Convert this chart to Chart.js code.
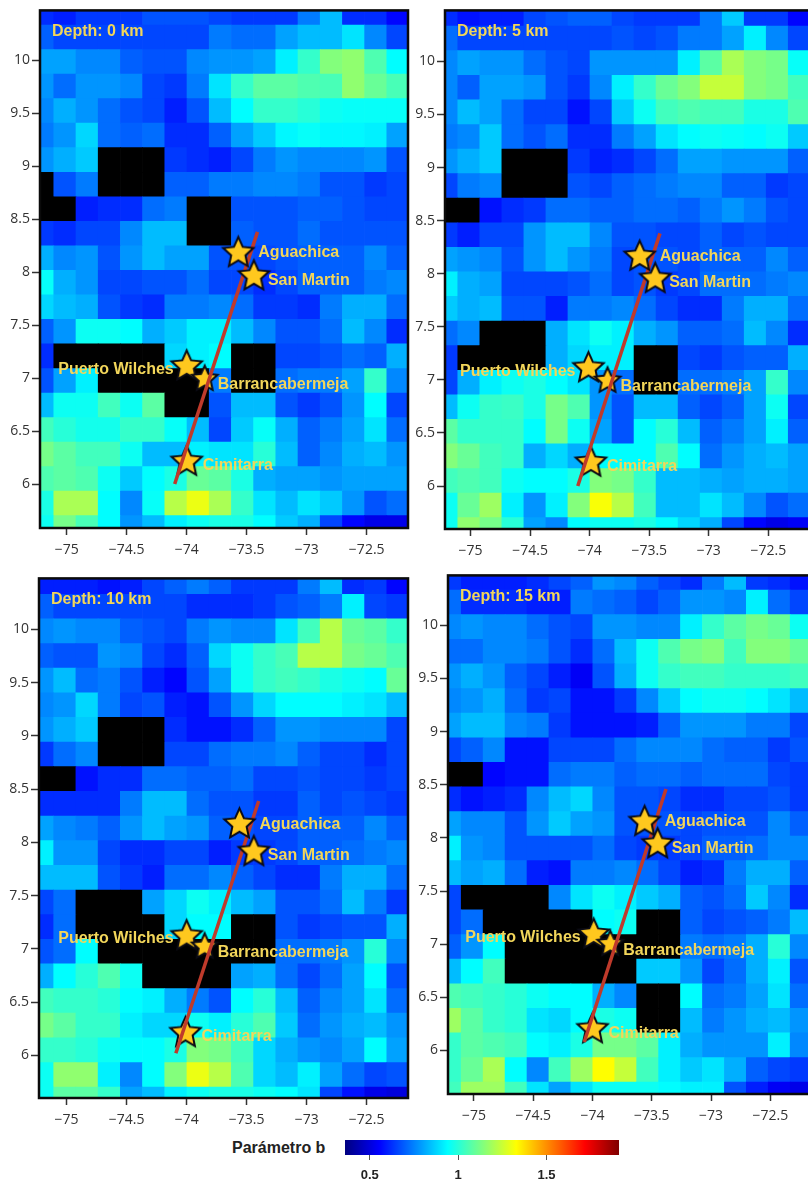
<!DOCTYPE html>
<html>
<head>
<meta charset="utf-8">
<title>Parámetro b</title>
<script src="https://cdn.jsdelivr.net/npm/chart.js@4/dist/chart.umd.js"></script>
<style>
  html, body { margin: 0; background: #fff; overflow: hidden; width: 808px; height: 1184px; }
  canvas { position: absolute; filter: blur(0.5px); }
  #barTitle { position: absolute; left: 232px; top: 1139px; font: bold 16px "Liberation Sans", sans-serif; color: #222; white-space: nowrap; }
</style>
</head>
<body>
<canvas id="panel0" width="420" height="565" style="left:0;top:0"></canvas>
<canvas id="panel5" width="410" height="565" style="left:405px;top:0"></canvas>
<canvas id="panel10" width="420" height="560" style="left:0;top:568px"></canvas>
<canvas id="panel15" width="410" height="560" style="left:408px;top:565px"></canvas>
<canvas id="colorBar" width="300" height="50" style="left:332px;top:1134px"></canvas>
<div id="barTitle">Parámetro b</div>
<script>
const lons = [-75.2, -75.015, -74.83, -74.645, -74.46, -74.275, -74.09, -73.905, -73.72, -73.535, -73.35, -73.165, -72.98, -72.795, -72.61, -72.425, -72.24]
const lats = [10.447, 10.215, 9.984, 9.752, 9.521, 9.289, 9.058, 8.826, 8.595, 8.363, 8.132, 7.9, 7.669, 7.437, 7.206, 6.974, 6.743, 6.511, 6.28, 6.048, 5.817, 5.585]
const lonTicks = [-75, -74.5, -74, -73.5, -73, -72.5]
const latTicks = [6, 6.5, 7, 7.5, 8, 8.5, 9, 9.5, 10]
const barTicks = [0.5, 1, 1.5]

// b value of each cell, north to south, null = no data (black)
const depth0 = [
  [.62,.60,.64,.64,.64,.68,.68,.68,.66,.64,.64,.64,.74,.84,.62,.62,.56],
  [.70,.66,.66,.66,.66,.66,.66,.66,.74,.72,.72,.80,.84,.84,.90,.76,.66],
  [.80,.80,.76,.76,.70,.68,.68,.76,.78,.78,.80,.92,1.02,1.14,1.16,1.06,.94],
  [.78,.72,.78,.78,.76,.66,.64,.74,.90,1.02,1.08,1.08,1.06,1.05,1.16,1.10,1.05],
  [.76,.82,.78,.72,.68,.66,.60,.68,.84,.94,1.02,1.02,1.0,.96,.95,.95,.95],
  [.74,.78,.88,.72,.70,.72,.62,.62,.70,.80,.86,.93,.95,.93,.93,.92,.80],
  [.78,.82,.86,null,null,null,.64,.62,.60,.66,.74,.78,.76,.76,.76,.78,.68],
  [null,.68,.74,null,null,null,.70,.70,.74,.74,.76,.76,.74,.68,.68,.64,.66],
  [null,null,.60,.62,.62,.72,.74,null,null,.68,.68,.68,.70,.70,.68,.66,.66],
  [.64,.62,.66,.66,.76,.84,.84,null,null,.70,.68,.68,.72,.68,.68,.68,.68],
  [.82,.76,.78,.68,.78,.84,.80,.80,.68,.68,.66,.68,.70,.70,.70,.76,.70],
  [.95,.82,.78,.66,.66,.68,.68,.72,.66,.66,.62,.66,.70,.70,.70,.74,.76],
  [.88,.84,.82,.68,.64,.62,.74,.74,.76,.72,.64,.64,.62,.74,.82,.82,.72],
  [.70,.78,.96,.96,.94,.82,.86,.92,.92,.84,.76,.68,.68,.72,.84,.76,.62],
  [.62,null,null,null,null,null,.88,.92,.94,null,null,.66,.66,.68,.72,.70,.82],
  [.68,.80,.92,null,null,null,null,null,.74,null,null,.72,.74,.74,.80,1.02,.76],
  [.84,.96,.96,1.04,.96,1.08,null,null,.68,.84,.84,.68,.64,.68,.78,.94,.66],
  [1.04,1.0,.97,.97,1.02,1.02,.95,.84,.66,.86,.95,.82,.70,.74,.80,.90,.72],
  [1.12,1.08,1.04,1.04,.96,.84,.84,.92,.90,.90,1.0,.84,.70,.76,.82,.84,.78],
  [1.06,1.08,1.06,.96,.86,.94,.98,1.10,1.08,.98,.82,.80,.80,.78,.80,.80,.80],
  [.98,1.2,1.2,.94,.76,.95,1.22,1.30,1.2,1.02,.90,.84,.90,.86,.78,.68,.72],
  [.96,1.12,1.05,.94,.78,.84,.92,.96,.98,.98,.94,.86,.82,.66,.56,.52,.52]
]
const depth5 = [
  [.62,.58,.60,.60,.66,.68,.70,.70,.66,.64,.64,.64,.74,.86,.64,.64,.56],
  [.72,.66,.66,.66,.66,.66,.66,.66,.68,.66,.68,.74,.74,.80,.92,.76,.66],
  [.76,.80,.78,.78,.72,.68,.66,.78,.78,.78,.78,.92,1.08,1.2,1.14,1.12,.95],
  [.76,.70,.80,.80,.78,.68,.64,.76,.92,1.02,1.10,1.14,1.24,1.24,1.14,1.12,1.04],
  [.76,.84,.80,.72,.66,.66,.58,.66,.86,.96,1.04,1.06,1.04,1.04,.98,.98,1.06],
  [.74,.76,.86,.72,.68,.72,.62,.62,.74,.80,.90,.94,.96,.95,.94,.96,.86],
  [.78,.82,.86,null,null,null,.64,.60,.62,.66,.72,.80,.80,.78,.78,.78,.70],
  [.66,.74,.76,null,null,null,.68,.66,.70,.72,.74,.76,.76,.70,.70,.64,.66],
  [null,null,.58,.62,.64,.72,.72,.70,.70,.72,.72,.70,.74,.78,.74,.68,.66],
  [.64,.60,.66,.66,.78,.84,.84,.76,.68,.68,.66,.66,.70,.66,.68,.66,.66],
  [.80,.78,.76,.68,.78,.84,.78,.74,.66,.68,.68,.66,.70,.70,.70,.76,.70],
  [.92,.82,.80,.66,.66,.66,.68,.72,.66,.68,.64,.66,.72,.72,.72,.74,.76],
  [.86,.82,.84,.68,.68,.60,.74,.74,.76,.72,.66,.62,.62,.74,.82,.82,.72],
  [.72,.76,null,null,null,.82,.90,.96,.92,.82,.78,.70,.70,.72,.84,.76,.62],
  [.64,null,null,null,null,.82,.88,.92,.92,null,null,.66,.64,.68,.70,.70,.82],
  [.66,.82,.92,.96,.98,.94,.90,.78,.72,null,null,.72,.72,.74,.80,1.02,.76],
  [.84,.96,1.02,1.03,.98,1.12,1.06,.78,.68,.84,.84,.70,.66,.70,.80,.96,.66],
  [1.08,1.02,1.02,1.02,.94,1.12,.96,.80,.68,.94,1.0,.84,.70,.74,.80,.92,.70],
  [1.14,1.10,1.04,1.02,.82,.88,.82,.94,.94,.94,1.06,.94,.72,.78,.82,.84,.80],
  [1.04,1.06,1.04,.96,.94,.94,.98,1.14,1.12,1.02,.84,.84,.82,.80,.82,.82,.80],
  [.96,1.10,1.18,.92,.78,.92,1.14,1.32,1.22,1.04,.84,.84,.90,.84,.76,.68,.72],
  [.96,1.16,1.12,1.0,.80,.76,.94,.96,.96,.98,.94,.88,.82,.66,.56,.52,.54]
]
const depth10 = [
  [.60,.60,.60,.58,.60,.66,.70,.74,.70,.64,.64,.64,.74,.84,.62,.64,.56],
  [.70,.66,.66,.66,.66,.66,.66,.62,.62,.62,.64,.68,.70,.74,.92,.66,.64],
  [.76,.78,.76,.76,.70,.68,.66,.74,.78,.76,.76,.90,1.04,1.22,1.10,1.08,1.02],
  [.70,.68,.68,.78,.76,.66,.62,.70,.88,.96,1.02,1.05,1.22,1.22,1.12,1.10,1.06],
  [.78,.84,.72,.74,.68,.60,.56,.68,.80,.96,1.02,1.04,1.02,.98,.96,.94,1.10],
  [.76,.78,.88,.74,.66,.68,.60,.58,.68,.78,.88,.94,.94,.94,.92,.90,.84],
  [.78,.82,.86,null,null,null,.62,.58,.58,.62,.70,.78,.78,.76,.76,.76,.66],
  [.64,.72,.76,null,null,null,.66,.66,.72,.74,.74,.76,.70,.66,.66,.62,.66],
  [null,null,.58,.62,.62,.72,.72,.70,.70,.72,.66,.66,.68,.66,.66,.64,.66],
  [.62,.62,.62,.62,.74,.84,.84,.72,.68,.68,.64,.64,.70,.66,.68,.66,.64],
  [.80,.76,.74,.70,.78,.84,.80,.78,.70,.68,.66,.66,.70,.70,.70,.76,.70],
  [.92,.78,.78,.66,.62,.62,.66,.66,.60,.64,.64,.66,.70,.70,.72,.74,.76],
  [.84,.84,.84,.68,.64,.60,.72,.72,.76,.70,.66,.62,.62,.74,.82,.82,.72],
  [.66,.72,null,null,null,.80,.88,.96,.92,.84,.80,.68,.68,.72,.84,.74,.64],
  [.62,.72,null,null,null,null,.88,.94,.94,null,null,.68,.64,.66,.68,.68,.82],
  [.68,.72,.94,null,null,null,null,null,null,null,null,.72,.72,.74,.78,1.0,.76],
  [.82,.94,1.0,1.06,.96,null,null,null,null,.80,.82,.72,.66,.72,.80,.94,.68],
  [1.04,1.02,1.02,1.0,.94,.92,.82,.74,.68,.94,1.0,.84,.70,.76,.80,.90,.72],
  [1.12,1.08,1.02,1.02,.92,.88,.88,.96,.92,1.0,1.06,.86,.72,.78,.82,.84,.78],
  [1.02,1.02,1.0,.96,.94,.94,.98,1.14,1.12,1.04,.88,.82,.78,.76,.80,.94,.80],
  [.96,1.16,1.16,.92,.76,.94,1.14,1.30,1.22,1.06,.88,.84,.92,.80,.72,.66,.68],
  [.96,1.08,1.08,1.02,.80,.84,.92,.96,.98,.98,.96,.94,.90,.66,.58,.52,.50]
]
const depth15 = [
  [.64,.60,.60,.60,.62,.66,.70,.78,.76,.70,.66,.62,.74,.84,.64,.62,.58],
  [.72,.62,.62,.62,.60,.60,.74,.72,.70,.66,.70,.78,.78,.76,.92,.72,.66],
  [.76,.78,.76,.76,.72,.68,.66,.78,.78,.76,.76,.92,1.02,1.08,1.12,1.10,.96],
  [.72,.72,.76,.76,.74,.68,.62,.72,.84,.96,1.06,1.12,1.14,1.04,1.14,1.14,1.10],
  [.78,.82,.78,.70,.66,.60,.54,.68,.82,.96,1.02,1.04,1.04,1.02,1.02,1.02,1.04],
  [.76,.78,.82,.72,.64,.66,.58,.58,.64,.76,.86,.94,.96,.96,.94,.90,.84],
  [.80,.84,.84,.76,.74,.64,.58,.58,.58,.60,.70,.78,.78,.78,.74,.74,.66],
  [.66,.70,.76,.58,.58,.66,.66,.66,.72,.76,.76,.76,.72,.70,.70,.64,.68],
  [null,null,.56,.58,.58,.72,.74,.74,.70,.72,.72,.70,.72,.72,.72,.66,.64],
  [.62,.58,.60,.62,.76,.84,.88,.76,.68,.68,.66,.62,.62,.66,.66,.68,.64],
  [.80,.76,.76,.68,.78,.86,.80,.78,.68,.68,.68,.66,.68,.68,.68,.76,.70],
  [.92,.78,.76,.68,.68,.68,.68,.72,.66,.64,.64,.66,.70,.70,.72,.76,.76],
  [.84,.80,.82,.72,.60,.58,.74,.74,.76,.72,.66,.60,.62,.74,.82,.82,.70],
  [.66,null,null,null,null,.76,.90,.96,.92,.86,.82,.70,.68,.72,.86,.76,.62],
  [.66,.72,null,null,null,null,null,.94,.96,null,null,.70,.66,.68,.70,.74,.84],
  [.70,.78,.94,null,null,null,null,null,null,null,null,.74,.72,.74,.82,1.0,.76],
  [.84,.94,1.04,null,null,null,null,null,null,.86,.86,.78,.66,.72,.82,.92,.68],
  [1.06,1.04,1.02,1.0,.96,.94,.94,.82,.76,null,null,.94,.72,.74,.80,.90,.72],
  [1.18,1.08,1.02,1.0,.90,.88,.94,.98,.96,null,null,.84,.74,.78,.82,.84,.78],
  [1.02,1.08,1.06,1.04,.94,.92,.98,1.12,1.12,1.08,.92,.82,.78,.78,.78,.92,.76],
  [1.02,1.10,1.20,.94,.76,1.04,1.18,1.33,1.24,1.04,.92,.86,.90,.82,.70,.66,.64],
  [1.04,1.18,1.18,1.04,.90,.80,.90,.96,.96,.96,.94,.92,.92,.68,.60,.54,.52]
]

const cities = ['Aguachica', 'San Martin', 'Puerto Wilches', 'Barrancabermeja', 'Cimitarra']
const cityLons0 = [-73.57, -73.44, -74.0, -73.85, -74.0]
const cityLats0 = [8.19, 7.97, 7.12, 7.0, 6.22]
const cityLons5 = [-73.58, -73.45, -74.01, -73.85, -73.99]
const cityLats5 = [8.17, 7.96, 7.12, 7.0, 6.23]
const cityLons10 = [-73.56, -73.44, -74.0, -73.85, -74.01]
const cityLats10 = [8.18, 7.92, 7.13, 7.03, 6.22]
const cityLons15 = [-73.56, -73.45, -73.99, -73.85, -74.0]
const cityLats15 = [8.16, 7.95, 7.1, 7.01, 6.21]

const faultLons0 = [-74.1, -73.41]
const faultLats0 = [6.0, 8.38]
const faultLons5 = [-74.1, -73.41]
const faultLats5 = [6.0, 8.38]
const faultLons10 = [-74.09, -73.4]
const faultLats10 = [6.02, 8.39]
const faultLons15 = [-74.07, -73.38]
const faultLats15 = [6.08, 8.46]

const barMin = 0.36
const barMax = 1.91
const cellHalfHeight = 0.1165
const labelYellow = '#f2d65a'

function jet(v) {
  const t = (v - barMin) / (barMax - barMin)
  const ch = c => Math.round(255 * Math.max(0, Math.min(1, 1.5 - Math.abs(4 * t - c))))
  return `rgb(${ch(3)},${ch(2)},${ch(1)})`
}

function makeStar(radius) {
  const size = Math.ceil(radius * 2 + 18)
  const star = document.createElement('canvas')
  star.width = size
  star.height = size
  const g = star.getContext('2d')
  g.translate(size / 2, size / 2 + 1)
  g.beginPath()
  for (let i = 0; i < 10; i++) {
    const r = i % 2 ? radius * 0.47 : radius
    const a = -Math.PI / 2 + i * Math.PI / 5
    g.lineTo(r * Math.cos(a), r * Math.sin(a))
  }
  g.closePath()
  g.lineWidth = 4
  g.lineJoin = 'miter'
  g.strokeStyle = '#0b0b14'
  g.stroke()
  g.fillStyle = '#ffc81e'
  g.fill()
  return star
}
const bigStar = makeStar(13.5)
const smallStar = makeStar(11)

// text placed next to each star, in pixels from the star
const labelOffsets = [[20, 1], [14, 5], [-13, 4], [13, 7], [16, 5]]

const mapLabels = {
  id: 'mapLabels',
  afterDatasetsDraw(chart, args, opts) {
    const { ctx, chartArea: a, scales } = chart
    ctx.save()
    ctx.strokeStyle = '#0a0a0a'
    ctx.lineWidth = 2.5
    ctx.strokeRect(a.left, a.top, a.right - a.left, a.bottom - a.top)
    ctx.font = 'bold 16px "Liberation Sans", sans-serif'
    ctx.fillStyle = labelYellow
    ctx.textBaseline = 'middle'
    cities.forEach((name, i) => {
      ctx.textAlign = labelOffsets[i][0] < 0 ? 'right' : 'left'
      ctx.fillText(name,
        scales.x.getPixelForValue(opts.lons[i]) + labelOffsets[i][0],
        scales.y.getPixelForValue(opts.lats[i]) + labelOffsets[i][1])
    })
    ctx.textAlign = 'left'
    ctx.fillText(opts.title, a.left + 12, a.top + 21)
    ctx.restore()
  }
}

function makeCells(values) {
  const cells = []
  values.forEach((row, r) => {
    row.forEach((v, c) => {
      cells.push({ x: lons[c], y: [lats[r] - cellHalfHeight, lats[r] + cellHalfHeight], v: v })
    })
  })
  return cells
}

function makeStars(cityLons, cityLats, names) {
  return names.map(n => {
    const i = cities.indexOf(n)
    return { x: cityLons[i], y: cityLats[i], name: n }
  })
}

function starStyle(c) {
  return c.raw && c.raw.name === 'Barrancabermeja' ? smallStar : bigStar
}

function drawPanel(id, title, values, cityLons, cityLats, faultLons, faultLats, box) {
  new Chart(document.getElementById(id), {
    type: 'bar',
    data: {
      datasets: [
        {
          type: 'scatter',
          data: makeStars(cityLons, cityLats, ['Aguachica', 'San Martin']),
          pointStyle: starStyle,
          order: 0
        },
        {
          type: 'line',
          data: faultLons.map((x, i) => ({ x: x, y: faultLats[i] })),
          borderColor: '#bf3a2b',
          borderWidth: 3.5,
          pointRadius: 0,
          order: 1
        },
        {
          type: 'scatter',
          data: makeStars(cityLons, cityLats, ['Puerto Wilches', 'Barrancabermeja', 'Cimitarra']),
          pointStyle: starStyle,
          order: 2
        },
        {
          type: 'bar',
          data: makeCells(values),
          backgroundColor: c => (c.raw && c.raw.v !== null ? jet(c.raw.v) : '#000'),
          barPercentage: 1,
          categoryPercentage: 1,
          grouped: false,
          borderWidth: 0,
          order: 3
        }
      ]
    },
    options: {
      responsive: false,
      animation: false,
      events: [],
      layout: { padding: { top: box.top, right: box.right, left: 0, bottom: 0 } },
      plugins: {
        legend: { display: false },
        tooltip: { enabled: false },
        mapLabels: { title: title, lons: cityLons, lats: cityLats }
      },
      scales: {
        x: {
          type: 'linear',
          offset: false,
          min: box.xMin,
          max: box.xMax,
          afterBuildTicks: s => { s.ticks = lonTicks.map(v => ({ value: v })) },
          afterFit: s => { s.height = box.bottomAxis },
          grid: { drawOnChartArea: false, tickLength: 7, tickColor: '#333', tickWidth: 1.5, offset: false },
          border: { display: false },
          ticks: {
            color: '#333',
            padding: 7,
            maxRotation: 0,
            autoSkip: false,
            font: { family: '"Open Sans"', size: 14 },
            callback: v => String(v).replace('-', '\u2212')
          }
        },
        y: {
          type: 'linear',
          min: box.yMin,
          max: box.yMax,
          afterBuildTicks: s => { s.ticks = latTicks.map(v => ({ value: v })) },
          afterFit: s => { s.width = box.leftAxis },
          grid: { drawOnChartArea: false, tickLength: 8, tickColor: '#333', tickWidth: 1.5 },
          border: { display: false },
          ticks: {
            color: '#333',
            padding: 2,
            autoSkip: false,
            font: { family: '"Open Sans"', size: 14 },
            callback: v => String(v)
          }
        }
      }
    },
    plugins: [mapLabels]
  })
}

drawPanel('panel0', 'Depth: 0 km', depth0, cityLons0, cityLats0, faultLons0, faultLats0,
  { top: 10, right: 12, leftAxis: 40, bottomAxis: 37, xMin: -75.2225, xMax: -72.156, yMin: 5.585, yMax: 10.47 })
drawPanel('panel5', 'Depth: 5 km', depth5, cityLons5, cityLats5, faultLons5, faultLats5,
  { top: 10, right: 0, leftAxis: 40, bottomAxis: 36, xMin: -75.215, xMax: -72.15, yMin: 5.595, yMax: 10.48 })
drawPanel('panel10', 'Depth: 10 km', depth10, cityLons10, cityLats10, faultLons10, faultLats10,
  { top: 10, right: 12, leftAxis: 39, bottomAxis: 30, xMin: -75.23, xMax: -72.156, yMin: 5.6, yMax: 10.48 })
drawPanel('panel15', 'Depth: 15 km', depth15, cityLons15, cityLats15, faultLons15, faultLats15,
  { top: 10, right: 0, leftAxis: 40, bottomAxis: 31, xMin: -75.219, xMax: -72.14, yMin: 5.59, yMax: 10.47 })

// colour scale under the panels
new Chart(document.getElementById('colorBar'), {
  type: 'bar',
  data: {
    labels: ['b'],
    datasets: [{
      data: [[barMin, barMax]],
      barPercentage: 1,
      categoryPercentage: 1,
      borderWidth: 0,
      backgroundColor: c => {
        const a = c.chart.chartArea
        if (!a) return '#000'
        const g = c.chart.ctx.createLinearGradient(a.left, 0, a.right, 0)
        for (let i = 0; i <= 32; i++) {
          g.addColorStop(i / 32, jet(barMin + (barMax - barMin) * i / 32))
        }
        return g
      }
    }]
  },
  options: {
    indexAxis: 'y',
    responsive: false,
    animation: false,
    events: [],
    layout: { padding: { top: 6, left: 13, right: 13, bottom: 0 } },
    plugins: { legend: { display: false }, tooltip: { enabled: false } },
    scales: {
      y: { display: false },
      x: {
        type: 'linear',
        min: barMin,
        max: barMax,
        afterBuildTicks: s => { s.ticks = barTicks.map(v => ({ value: v })) },
        afterFit: s => { s.height = 29 },
        grid: { drawOnChartArea: false, tickLength: 5, tickColor: '#555', offset: false },
        border: { display: false },
        ticks: {
          color: '#222',
          padding: 8,
          maxRotation: 0,
          autoSkip: false,
          font: { family: '"Liberation Sans"', size: 13, weight: 'bold' },
          callback: v => String(v)
        }
      }
    }
  }
})
</script>
</body>
</html>
